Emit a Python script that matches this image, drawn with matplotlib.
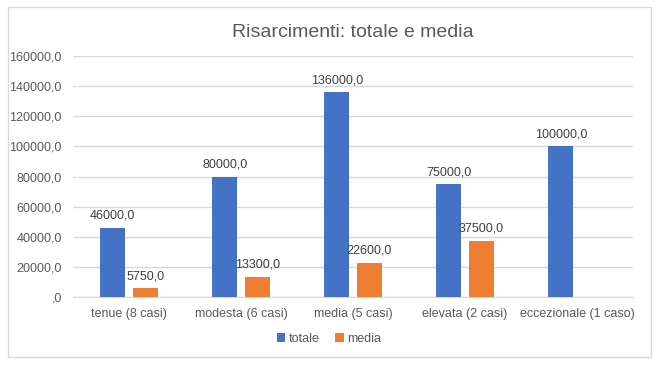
import matplotlib.pyplot as plt
import numpy as np
from matplotlib.patches import Rectangle

categories = ['tenue (8 casi)', 'modesta (6 casi)', 'media (5 casi)',
              'elevata (2 casi)', 'eccezionale (1 caso)']
totale = [46000, 80000, 136000, 75000, 100000]
media = [5750, 13300, 22600, 37500, None]


def fmt(v):
    s = '%.1f' % v
    s = s.replace('.', ',')
    if s.startswith('0,'):
        s = s[1:]
    return s


plt.rcParams['font.family'] = ['Liberation Sans', 'DejaVu Sans']
txt = '#595959'

fig = plt.figure(figsize=(6.58, 3.69), dpi=100)
ax = fig.add_axes([0.111, 0.195, 0.851, 0.653])

# chart border
fig.patches.append(Rectangle((8 / 658, 12 / 369), 643 / 658, 350 / 369, transform=fig.transFigure,
                             fill=False, edgecolor='#D9D9D9', linewidth=1))

x = np.arange(len(categories))
w = 0.22
off = 0.145
b1 = ax.bar(x - off, totale, w, color='#4472C4', label='totale', zorder=3)
mx = [xi + off for xi, m in zip(x, media) if m is not None]
mv = [m for m in media if m is not None]
b2 = ax.bar(mx, mv, w, color='#ED7D31', label='media', zorder=3)

for xi, v in zip(x - off, totale):
    ax.text(xi, v + 4000, fmt(v), ha='center', va='bottom', fontsize=9, color='#404040')
for xi, v in zip(mx, mv):
    ax.text(xi, v + 4000, fmt(v), ha='center', va='bottom', fontsize=9, color='#404040')

ax.set_xlim(-0.5, len(categories) - 0.5)
ax.set_ylim(0, 160000)
ax.set_yticks(range(0, 160001, 20000))
ax.set_yticklabels([fmt(t) for t in range(0, 160001, 20000)])
ax.set_xticks(x)
ax.set_xticklabels(categories)
ax.tick_params(axis='both', length=0, labelsize=9, colors=txt)
ax.tick_params(axis='y', pad=8)
ax.tick_params(axis='x', pad=8)
ax.grid(axis='y', color='#D9D9D9', linewidth=1, zorder=0)
for s in ['top', 'right', 'left']:
    ax.spines[s].set_visible(False)
ax.spines['bottom'].set_color('#D9D9D9')

ax.set_title('Risarcimenti: totale e media', fontsize=14, color=txt, pad=14)

fig.legend(handles=[b1, b2], loc='center', bbox_to_anchor=(0.5, 1 - 339 / 369), ncol=2,
           frameon=False, fontsize=9, handlelength=0.7, handleheight=0.7,
           handletextpad=0.3, columnspacing=1.2, labelcolor=txt)

plt.savefig('out.png', dpi=100)
